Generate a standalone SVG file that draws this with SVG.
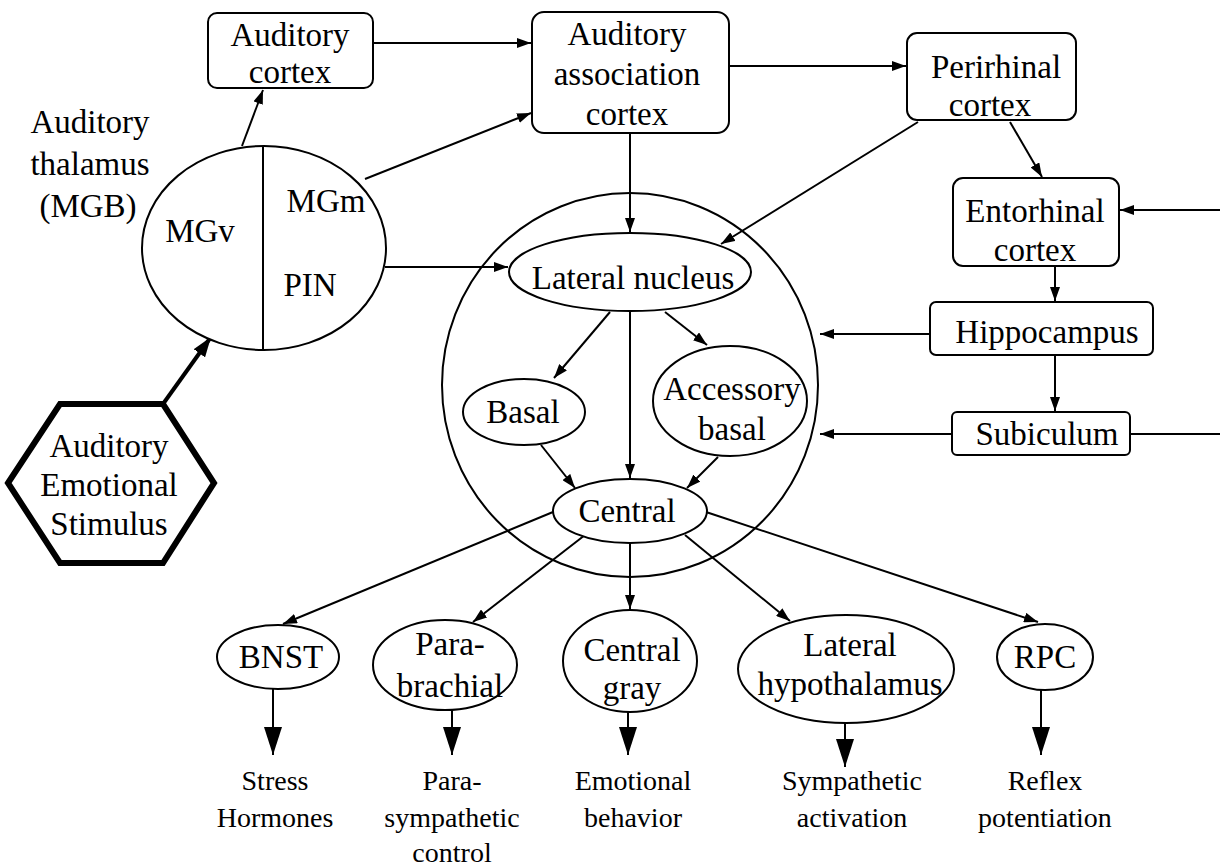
<svg xmlns="http://www.w3.org/2000/svg" width="1220" height="867" viewBox="0 0 1220 867">
<style>
text{font-family:"Liberation Serif","Times New Roman",serif;font-size:33px;fill:#000;text-anchor:middle}
.sm{font-size:28px}
.shape{fill:#fff;stroke:#000;stroke-width:2}
.ln{fill:none;stroke:#000;stroke-width:2}
</style>
<defs>
<marker id="a" viewBox="0 0 14 10" refX="14" refY="5" markerWidth="14" markerHeight="10" markerUnits="userSpaceOnUse" orient="auto"><path d="M0,0 L14,5 L0,10 z" fill="#000"/></marker>
<marker id="big" viewBox="0 0 28 18" refX="28" refY="9" markerWidth="28" markerHeight="18" markerUnits="userSpaceOnUse" orient="auto"><path d="M0,0 L28,9 L0,18 z" fill="#000"/></marker>
<marker id="thick" viewBox="0 0 20 14" refX="20" refY="7" markerWidth="20" markerHeight="14" markerUnits="userSpaceOnUse" orient="auto"><path d="M0,0 L20,7 L0,14 z" fill="#000"/></marker>
</defs>
<rect width="1220" height="867" fill="#fff"/>

<g id="amygdala">
<ellipse class="shape" cx="630" cy="385" rx="188" ry="192" fill="none"/>
</g>

<g id="connectors">
<line class="ln" x1="242" y1="146" x2="263" y2="90" marker-end="url(#a)"/>
<line class="ln" x1="373" y1="43" x2="531" y2="43" marker-end="url(#a)"/>
<line class="ln" x1="365" y1="179" x2="531" y2="113" marker-end="url(#a)"/>
<line class="ln" x1="729" y1="66" x2="906" y2="66" marker-end="url(#a)"/>
<line class="ln" x1="630" y1="133" x2="630" y2="232" marker-end="url(#a)"/>
<line class="ln" x1="918" y1="122" x2="721" y2="244" marker-end="url(#a)"/>
<line class="ln" x1="1010" y1="122" x2="1042" y2="177" marker-end="url(#a)"/>
<line class="ln" x1="1220" y1="210" x2="1120" y2="210" marker-end="url(#a)"/>
<line class="ln" x1="1055" y1="266" x2="1055" y2="301" marker-end="url(#a)"/>
<line class="ln" x1="930" y1="334" x2="820" y2="334" marker-end="url(#a)"/>
<line class="ln" x1="1055" y1="355" x2="1055" y2="411" marker-end="url(#a)"/>
<line class="ln" x1="952" y1="434" x2="820" y2="434" marker-end="url(#a)"/>
<line class="ln" x1="1130" y1="434" x2="1220" y2="434"/>
<line class="ln" x1="385" y1="267" x2="508" y2="267" marker-end="url(#a)"/>
<line class="ln" x1="610" y1="312" x2="554" y2="378" marker-end="url(#a)"/>
<line class="ln" x1="630" y1="311" x2="630" y2="478" marker-end="url(#a)"/>
<line class="ln" x1="665" y1="312" x2="707" y2="345" marker-end="url(#a)"/>
<line class="ln" x1="541" y1="445" x2="575" y2="488" marker-end="url(#a)"/>
<line class="ln" x1="718" y1="457" x2="687" y2="488" marker-end="url(#a)"/>
<line class="ln" x1="553" y1="512" x2="283" y2="624" marker-end="url(#a)"/>
<line class="ln" x1="585" y1="535" x2="473" y2="622" marker-end="url(#a)"/>
<line class="ln" x1="630" y1="543" x2="630" y2="609" marker-end="url(#a)"/>
<line class="ln" x1="685" y1="535" x2="790" y2="621" marker-end="url(#a)"/>
<line class="ln" x1="706" y1="512" x2="1038" y2="622" marker-end="url(#a)"/>
<line class="ln" x1="273" y1="689" x2="273" y2="755" marker-end="url(#big)"/>
<line class="ln" x1="452" y1="710" x2="452" y2="755" marker-end="url(#big)"/>
<line class="ln" x1="628" y1="712" x2="628" y2="755" marker-end="url(#big)"/>
<line class="ln" x1="845" y1="723" x2="845" y2="767" marker-end="url(#big)"/>
<line class="ln" x1="1041" y1="690" x2="1041" y2="755" marker-end="url(#big)"/>
<line x1="163" y1="404" x2="211" y2="337" stroke="#000" stroke-width="4" marker-end="url(#thick)"/>
</g>

<g id="auditory-cortex">
<rect class="shape" x="208" y="13" width="165" height="75" rx="9"/>
<text x="290" y="46">Auditory</text>
<text x="290" y="83">cortex</text>
</g>

<g id="auditory-association-cortex">
<rect class="shape" x="532" y="12" width="197" height="121" rx="12"/>
<text x="627" y="45">Auditory</text>
<text x="627" y="85">association</text>
<text x="627" y="125">cortex</text>
</g>

<g id="perirhinal-cortex">
<rect class="shape" x="907" y="33" width="169" height="87" rx="10"/>
<text x="996" y="78">Perirhinal</text>
<text x="990" y="116">cortex</text>
</g>

<g id="entorhinal-cortex">
<rect class="shape" x="953" y="178" width="166" height="88" rx="10"/>
<text x="1035" y="222">Entorhinal</text>
<text x="1035" y="261">cortex</text>
</g>

<g id="hippocampus">
<rect class="shape" x="930" y="302" width="223" height="53" rx="6"/>
<text x="1047" y="343">Hippocampus</text>
</g>

<g id="subiculum">
<rect class="shape" x="952" y="412" width="178" height="43" rx="5"/>
<text x="1047" y="445">Subiculum</text>
</g>

<g id="auditory-thalamus">
<text x="90" y="133">Auditory</text>
<text x="90" y="175">thalamus</text>
<text x="88" y="217">(MGB)</text>
<ellipse class="shape" cx="264" cy="248" rx="122" ry="102"/>
<line class="ln" x1="263" y1="146" x2="263" y2="350"/>
<text x="200" y="242">MGv</text>
<text x="326" y="212">MGm</text>
<text x="310" y="296">PIN</text>
</g>

<g id="stimulus">
<polygon points="8,483 60,404 163,404 214,483 163,563 60,563" fill="#fff" stroke="#000" stroke-width="6" stroke-linejoin="miter"/>
<text x="109" y="457">Auditory</text>
<text x="109" y="496">Emotional</text>
<text x="109" y="535">Stimulus</text>
</g>

<g id="lateral-nucleus">
<ellipse class="shape" cx="630" cy="272" rx="121" ry="39"/>
<text x="633" y="289">Lateral nucleus</text>
</g>

<g id="basal">
<ellipse class="shape" cx="524" cy="412" rx="61" ry="33"/>
<text x="523" y="423">Basal</text>
</g>

<g id="accessory-basal">
<ellipse class="shape" cx="730" cy="401" rx="77" ry="55"/>
<text x="732" y="400">Accessory</text>
<text x="732" y="440">basal</text>
</g>

<g id="central">
<ellipse class="shape" cx="630" cy="511" rx="77" ry="32"/>
<text x="627" y="522">Central</text>
</g>

<g id="bnst">
<ellipse class="shape" cx="278" cy="657" rx="61" ry="32"/>
<text x="281" y="668">BNST</text>
</g>

<g id="parabrachial">
<ellipse class="shape" cx="445" cy="665" rx="72" ry="45"/>
<text x="450" y="655">Para-</text>
<text x="450" y="697">brachial</text>
</g>

<g id="central-gray">
<ellipse class="shape" cx="630" cy="661" rx="67" ry="51"/>
<text x="632" y="661">Central</text>
<text x="632" y="699">gray</text>
</g>

<g id="lateral-hypothalamus">
<ellipse class="shape" cx="846" cy="669" rx="108" ry="54"/>
<text x="850" y="656">Lateral</text>
<text x="850" y="695">hypothalamus</text>
</g>

<g id="rpc">
<ellipse class="shape" cx="1045" cy="657" rx="48" ry="33"/>
<text x="1045" y="668">RPC</text>
</g>

<g id="outputs">
<text class="sm" x="275" y="790">Stress</text>
<text class="sm" x="275" y="827">Hormones</text>
<text class="sm" x="452" y="790">Para-</text>
<text class="sm" x="452" y="827">sympathetic</text>
<text class="sm" x="452" y="862">control</text>
<text class="sm" x="633" y="790">Emotional</text>
<text class="sm" x="633" y="827">behavior</text>
<text class="sm" x="852" y="790">Sympathetic</text>
<text class="sm" x="852" y="827">activation</text>
<text class="sm" x="1045" y="790">Reflex</text>
<text class="sm" x="1045" y="827">potentiation</text>
</g>
</svg>
